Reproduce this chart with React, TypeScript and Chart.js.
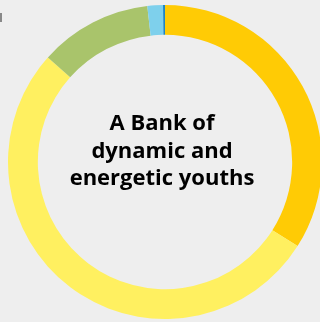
import React, { useEffect, useRef } from "react";
import { Chart, registerables } from "chart.js";

Chart.register(...registerables);

const categories = ["Segment A", "Segment B", "Segment C", "Segment D", "Segment E"];
const values = [34, 52.6, 11.6, 1.6, 0.2];
const colors = ["#FFCB05", "#FFF060", "#A9C46B", "#7ED0EC", "#1D86C6"];
const centerLines = ["A Bank of", "dynamic and", "energetic youths"];

const centerText = {
  id: "centerText",
  afterDraw(chart: any) {
    const { ctx } = chart;
    const meta = chart.getDatasetMeta(0);
    const arc = meta.data[0];
    if (!arc) return;
    const cx = arc.x - 3;
    const cy = arc.y;
    ctx.save();
    ctx.fillStyle = "#000";
    ctx.font = "bold 22px 'Open Sans'";
    ctx.textAlign = "center";
    ctx.textBaseline = "alphabetic";
    const lh = 27.5;
    centerLines.forEach((t, i) => {
      ctx.fillText(t, cx, cy - 32 + i * lh);
    });
    ctx.restore();
  },
};

export default function App() {
  const ref = useRef<HTMLCanvasElement>(null);
  useEffect(() => {
    if (!ref.current) return;
    const chart = new Chart(ref.current, {
      type: "doughnut",
      data: {
        labels: categories,
        datasets: [
          {
            data: values,
            backgroundColor: colors,
            borderWidth: 0,
          },
        ],
      },
      options: {
        responsive: false,
        animation: false,
        cutout: "81%",
        layout: { padding: 0 },
        plugins: {
          legend: { display: false },
          tooltip: { enabled: false },
        },
      },
      plugins: [centerText],
    });
    return () => chart.destroy();
  }, []);
  return (
    <div
      style={{
        position: "fixed",
        left: 0,
        top: 0,
        width: 320,
        height: 322,
        overflow: "hidden",
        background: "#eeeeee",
      }}
    >
      <div
        style={{
          position: "absolute",
          left: 0,
          top: 13,
          width: 2,
          height: 9,
          background: "#888",
        }}
      />
      <canvas
        ref={ref}
        width={314}
        height={314}
        style={{ position: "absolute", left: 7.5, top: 5, width: 314, height: 314 }}
      />
    </div>
  );
}
